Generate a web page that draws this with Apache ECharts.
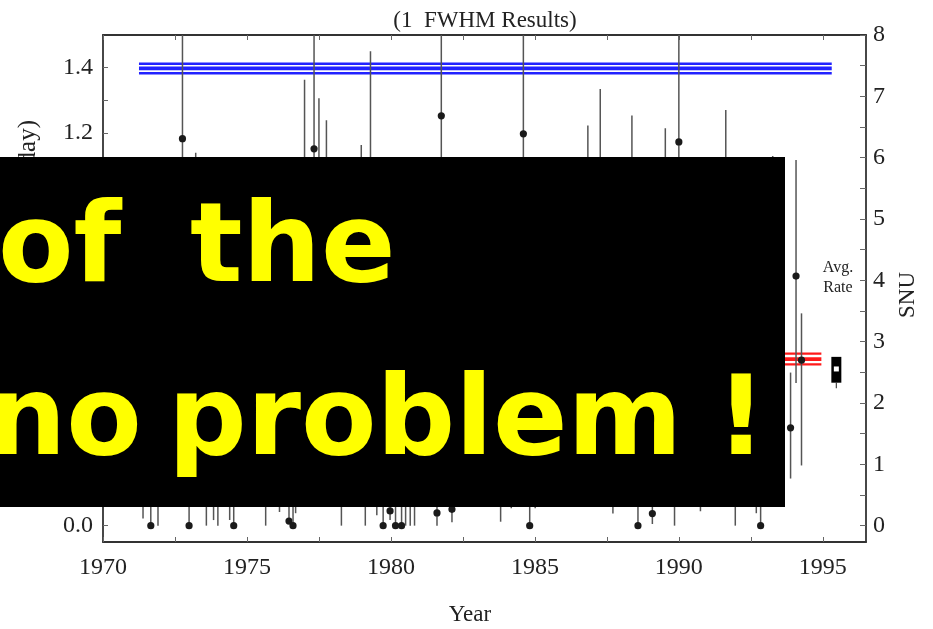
<!DOCTYPE html>
<html>
<head>
<meta charset="utf-8">
<script src="https://cdn.jsdelivr.net/npm/echarts@6/dist/echarts.min.js"></script>
<style>
  html, body { margin: 0; padding: 0; background: #fff; }
  #chart { width: 933px; height: 629px; }
</style>
</head>
<body>
<div id="chart"></div>
<script>
// Individual extraction runs: date (decimal year), 37Ar production rate (atoms/day)
// and the lower / upper ends of each run's error bar.
const runYears = [1971.39, 1971.66, 1971.91, 1972.76, 1972.99, 1973.22, 1973.59, 1973.84, 1973.99, 1974.40,
                  1974.54, 1975.65, 1976.13, 1976.46, 1976.60, 1976.69, 1977.00, 1977.33, 1977.50, 1977.76,
                  1978.28, 1978.97, 1979.11, 1979.29, 1979.51, 1979.73, 1979.97, 1980.16, 1980.37, 1980.51,
                  1980.67, 1980.82, 1981.60, 1981.75, 1982.12, 1983.81, 1984.18, 1984.60, 1984.82, 1985.01,
                  1986.84, 1987.27, 1987.71, 1988.37, 1988.58, 1989.08, 1989.53, 1989.85, 1990.00, 1990.75,
                  1991.63, 1991.96, 1992.69, 1992.84, 1993.26, 1993.88, 1994.07, 1994.26];
const runRates = [0.30, 0.00, 0.25, 1.183, 0.00, 0.75, 0.20, 0.35, 0.30, 0.40,
                  0.00, 0.30, 0.45, 0.014, 0.00, 0.35, 0.80, 1.152, 0.85, 0.75,
                  0.25, 0.70, 0.30, 0.90, 0.40, 0.00, 0.045, 0.00, 0.00, 0.30,
                  0.35, 0.30, 0.039, 1.253, 0.05, 0.35, 0.45, 1.198, 0.00, 0.50,
                  0.70, 0.80, 0.45, 0.75, 0.00, 0.037, 0.70, 0.30, 1.173, 0.45,
                  0.75, 0.30, 0.40, 0.00, 0.70, 0.299, 0.763, 0.506];
const runLow   = [0.022, 0.00, 0.00, 0.62, 0.00, 0.40, 0.00, 0.017, 0.00, 0.017,
                  0.00, 0.00, 0.042, 0.005, 0.00, 0.038, 0.30, 0.55, 0.40, 0.30,
                  0.00, 0.30, 0.00, 0.40, 0.032, 0.00, 0.017, 0.00, 0.00, 0.00,
                  0.00, 0.00, 0.00, 0.70, 0.01, 0.012, 0.053, 0.65, 0.00, 0.053,
                  0.30, 0.35, 0.037, 0.30, 0.00, 0.005, 0.30, 0.00, 0.65, 0.044,
                  0.30, 0.00, 0.038, 0.00, 0.30, 0.144, 0.436, 0.184];
const runHigh  = [0.60, 0.30, 0.55, 1.90, 0.28, 1.14, 0.50, 0.70, 0.60, 0.80,
                  0.30, 0.60, 0.85, 0.35, 0.30, 0.70, 1.363, 1.85, 1.307, 1.239,
                  0.55, 1.164, 0.60, 1.45, 0.80, 0.30, 0.40, 0.30, 0.30, 0.60,
                  0.65, 0.60, 0.40, 1.95, 0.45, 0.70, 0.85, 1.90, 0.30, 0.90,
                  1.223, 1.335, 0.85, 1.254, 0.30, 0.40, 1.215, 0.60, 1.85, 0.85,
                  1.271, 0.60, 0.80, 0.30, 1.13, 0.468, 1.118, 0.649];

// Model prediction band (blue) and combined result band (red), atoms/day
const predictionLevels = [1.383, 1.398, 1.412];
const predictionSpan   = [1971.25, 1995.31];
const combinedLevels   = [0.493, 0.509, 0.526];
const combinedSpan     = [1971.25, 1994.95];

// Average rate marker
const avgYear = 1995.47;
const avgRate = 0.479;
const avgLow  = 0.437;
const avgHigh = 0.516;
const avgTail = 0.420;

// Axis ticks and labels
const xTicks      = [1970, 1972.5, 1975, 1977.5, 1980, 1982.5, 1985, 1987.5, 1990, 1992.5, 1995];
const xLabels     = [1970, 1975, 1980, 1985, 1990, 1995];
const rateTicks   = [0, 0.1, 0.2, 0.3, 0.4, 0.5, 0.6, 0.7, 0.8, 0.9, 1.0, 1.1, 1.2, 1.3, 1.4];
const rateLabels  = [0, 0.2, 0.4, 0.6, 0.8, 1.0, 1.2, 1.4];
const snuTicks    = [0, 0.5, 1, 1.5, 2, 2.5, 3, 3.5, 4, 4.5, 5, 5.5, 6, 6.5, 7, 7.5, 8];
const snuLabels   = [0, 1, 2, 3, 4, 5, 6, 7, 8];

const RATE_MIN = -0.05, RATE_MAX = 1.5;
const SNU_PER_RATE = 8 / 1.5;

const serif = '"Liberation Serif", "Times New Roman", serif';
const bannerFont = 'bold 110px "Comic Sans MS", "DejaVu Sans", sans-serif';
const axisColor = '#333';

function renderRun(params, api) {
  const x = api.value(0);
  const cs = params.coordSys;
  const top = api.coord([x, api.value(3)]);
  const bot = api.coord([x, api.value(2)]);
  const dot = api.coord([x, api.value(1)]);
  const y1 = Math.max(top[1], cs.y);
  const y2 = Math.min(bot[1], cs.y + cs.height);
  return {
    type: 'group',
    children: [
      { type: 'line', shape: { x1: top[0], y1: y1, x2: top[0], y2: y2 },
        style: { stroke: '#555', lineWidth: 1.5 } },
      { type: 'circle', shape: { cx: dot[0], cy: dot[1], r: 3.6 },
        style: { fill: '#1a1a1a' } }
    ]
  };
}

function renderAvg(params, api) {
  const x = api.value(0);
  const hi = api.coord([x, api.value(3)]);
  const lo = api.coord([x, api.value(2)]);
  const mid = api.coord([x, api.value(1)]);
  const tail = api.coord([x, api.value(4)]);
  const w = 10;
  return {
    type: 'group',
    children: [
      { type: 'line', shape: { x1: lo[0], y1: lo[1], x2: tail[0], y2: tail[1] },
        style: { stroke: '#444', lineWidth: 1.2 } },
      { type: 'rect', shape: { x: hi[0] - w / 2, y: hi[1], width: w, height: lo[1] - hi[1] },
        style: { fill: '#000' } },
      { type: 'rect', shape: { x: mid[0] - 2.5, y: mid[1] - 2.5, width: 5, height: 5 },
        style: { fill: '#fff' } }
    ]
  };
}

function bandSeries(levels, span, color, widths) {
  return levels.map((v, i) => ({
    type: 'line',
    xAxisIndex: 0, yAxisIndex: 0,
    data: [[span[0], v], [span[1], v]],
    symbol: 'none',
    silent: true,
    animation: false,
    lineStyle: { color: color, width: widths[i] },
    z: 3
  }));
}

function bannerWord(text, x, y) {
  return { type: 'text', x: x, y: y, z: 51,
           style: { text: text, font: bannerFont, fill: '#ffff00',
                    textAlign: 'left', textVerticalAlign: 'middle' } };
}

const chart = echarts.init(document.getElementById('chart'), null, { renderer: 'canvas' });

const option = {
  animation: false,
  backgroundColor: '#fff',
  title: {
    text: '(1  FWHM Results)',
    left: 480, top: 4, textAlign: 'center',
    textStyle: { fontFamily: serif, fontSize: 23, fontWeight: 'normal', color: '#222' }
  },
  grid: { left: 103, right: 67, top: 35, bottom: 87, containLabel: false },
  xAxis: [
    {
      type: 'value', position: 'bottom', min: 1970, max: 1996.5,
      axisLine: { show: true, onZero: false, lineStyle: { color: axisColor, width: 1.8 } },
      axisTick: { show: true, inside: true, length: 5, customValues: xTicks, lineStyle: { color: '#666' } },
      axisLabel: { customValues: xLabels, margin: 14, fontFamily: serif, fontSize: 24, color: '#222',
                   formatter: v => String(Math.round(v)) },
      splitLine: { show: false }
    },
    {
      type: 'value', position: 'top', min: 1970, max: 1996.5,
      axisLine: { show: true, onZero: false, lineStyle: { color: axisColor, width: 1.8 } },
      axisTick: { show: true, inside: true, length: 5, customValues: xTicks, lineStyle: { color: '#666' } },
      axisLabel: { show: false },
      splitLine: { show: false }
    }
  ],
  yAxis: [
    {
      type: 'value', position: 'left', min: RATE_MIN, max: RATE_MAX,
      axisLine: { show: true, onZero: false, lineStyle: { color: axisColor, width: 1.8 } },
      axisTick: { show: true, inside: true, length: 5, customValues: rateTicks, lineStyle: { color: '#666' } },
      axisLabel: { customValues: rateLabels, margin: 10, fontFamily: serif, fontSize: 24, color: '#222',
                   formatter: v => v.toFixed(1) },
      splitLine: { show: false }
    },
    {
      type: 'value', position: 'right', min: RATE_MIN * SNU_PER_RATE, max: RATE_MAX * SNU_PER_RATE,
      axisLine: { show: true, onZero: false, lineStyle: { color: axisColor, width: 1.8 } },
      axisTick: { show: true, inside: true, length: 6, customValues: snuTicks, lineStyle: { color: '#666' } },
      axisLabel: { customValues: snuLabels, margin: 7, fontFamily: serif, fontSize: 24, color: '#222',
                   formatter: v => String(Math.round(v)) },
      splitLine: { show: false }
    }
  ],
  series: [
    ...bandSeries(predictionLevels, predictionSpan, '#2222ff', [2.5, 3.6, 2.4]),
    ...bandSeries(combinedLevels, combinedSpan, '#ff1a1a', [2.2, 3.6, 2.2]),
    {
      type: 'custom',
      xAxisIndex: 0, yAxisIndex: 0,
      renderItem: renderRun,
      data: runYears.map((y, i) => [y, runRates[i], runLow[i], runHigh[i]]),
      encode: { x: 0, y: 1 },
      silent: true,
      z: 4
    },
    {
      type: 'custom',
      xAxisIndex: 0, yAxisIndex: 0,
      renderItem: renderAvg,
      data: [[avgYear, avgRate, avgLow, avgHigh, avgTail]],
      encode: { x: 0, y: 1 },
      silent: true,
      z: 5
    }
  ],
  graphic: [
    { type: 'text', x: 28, y: 120, rotation: Math.PI / 2, z: 10,
      style: { text: '\u00B3\u2077Ar Production Rate (atoms/day)', font: '25px ' + serif, fill: '#222',
               textAlign: 'right', textVerticalAlign: 'middle' } },
    { type: 'text', x: 908, y: 295, rotation: Math.PI / 2, z: 10,
      style: { text: 'SNU', font: '23px ' + serif, fill: '#222',
               textAlign: 'center', textVerticalAlign: 'middle' } },
    { type: 'text', x: 470, y: 615, z: 10,
      style: { text: 'Year', font: '23px ' + serif, fill: '#222',
               textAlign: 'center', textVerticalAlign: 'middle' } },
    { type: 'text', x: 838, y: 268, z: 10,
      style: { text: 'Avg.', font: '16px ' + serif, fill: '#222',
               textAlign: 'center', textVerticalAlign: 'middle' } },
    { type: 'text', x: 838, y: 288, z: 10,
      style: { text: 'Rate', font: '16px ' + serif, fill: '#222',
               textAlign: 'center', textVerticalAlign: 'middle' } },
    // Caption banner over the plot
    { type: 'rect', z: 50, shape: { x: -2, y: 157, width: 787, height: 350 }, style: { fill: '#000' } },
    bannerWord('of', -2, 252),
    bannerWord('the', 190, 252),
    bannerWord('no', -12, 425),
    bannerWord('problem', 168, 425),
    bannerWord('!', 716, 425)
  ]
};

chart.setOption(option);
</script>
</body>
</html>
